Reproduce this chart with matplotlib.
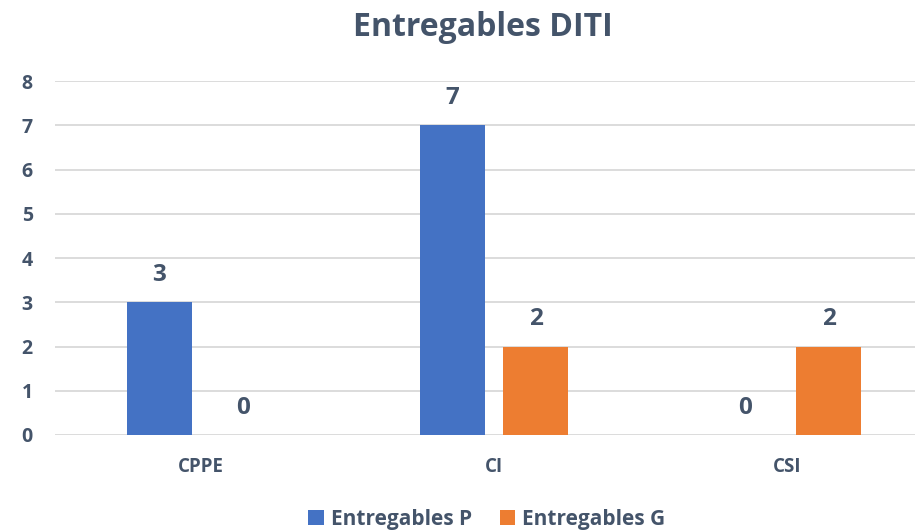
import matplotlib
matplotlib.use("Agg")
import matplotlib.pyplot as plt
import numpy as np

categories = ["CPPE", "CI", "CSI"]
series_names = ["Entregables P", "Entregables G"]
values_p = [3, 7, 0]
values_g = [0, 2, 2]
yticks = [0, 1, 2, 3, 4, 5, 6, 7, 8]

plt.rcParams['font.family'] = ['Open Sans', 'DejaVu Sans']
txt = "#44546A"
grid = "#D9D9D9"
colors = ["#4472C4", "#ED7D31"]

W, H = 915, 530
fig = plt.figure(figsize=(W / 100, H / 100), dpi=100)
ax = fig.add_axes([55 / W, (H - 435) / H, (W - 55) / W, (435 - 81) / H])

x = np.arange(len(categories))
bw = 0.222
off = 0.142
for i, (vals, name) in enumerate(zip([values_p, values_g], series_names)):
    bars = ax.bar(x + (i * 2 - 1) * off, vals, width=bw, color=colors[i], label=name, zorder=3)
    for b, v in zip(bars, vals):
        ax.annotate(f"{v}", (b.get_x() + b.get_width() / 2, v), xytext=(0, 19.5),
                    textcoords="offset points", ha="center", va="center",
                    fontsize=17.5, fontweight="bold", color=txt)

ax.set_xlim(-0.4987, 2.437)
ax.set_ylim(0, 8)
ax.set_yticks(yticks)
ax.yaxis.grid(True, color=grid, linewidth=1.3, zorder=0)
ax.set_axisbelow(True)
for s in ax.spines.values():
    s.set_visible(False)
ax.set_xticks(x)
ax.set_xticklabels(categories)
ax.tick_params(axis="both", length=0, colors=txt)
ax.tick_params(axis="x", pad=16, labelsize=13.5)
ax.tick_params(axis="y", pad=16, labelsize=14)
for lab in ax.get_xticklabels() + ax.get_yticklabels():
    lab.set_fontweight("bold")

fig.text(483 / W, 1 - 27 / H, "Entregables DITI", ha="center", va="center",
         fontsize=23, fontweight="bold", color=txt)

leg = fig.legend(loc="center", bbox_to_anchor=(487 / W, 1 - 519 / H), ncol=2, frameon=False,
                 handlelength=0.75, handleheight=0.75, handletextpad=0.35, columnspacing=1.3,
                 prop={"size": 15, "weight": "bold"})
for t in leg.get_texts():
    t.set_color(txt)

fig.savefig("out.png", dpi=100)
